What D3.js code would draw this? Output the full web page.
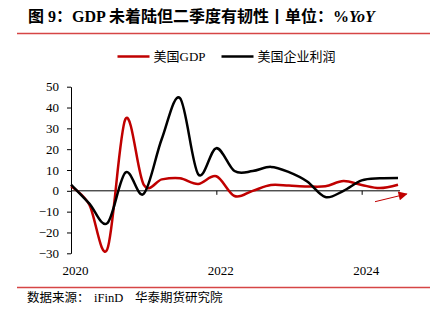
<!DOCTYPE html>
<html>
<head>
<meta charset="utf-8">
<script src="https://cdn.jsdelivr.net/npm/d3@7"></script>
<style>
  body { margin: 0; background: #fff; }
</style>
</head>
<body>
<div id="chart"></div>
<script>
// quarterly points, 2020Q1 .. 2024Q3
const quarters = ["2020Q1","2020Q2","2020Q3","2020Q4","2021Q1","2021Q2","2021Q3","2021Q4",
  "2022Q1","2022Q2","2022Q3","2022Q4","2023Q1","2023Q2","2023Q3","2023Q4",
  "2024Q1","2024Q2","2024Q3"];

// 美国GDP (annualised q/q, %)
const gdp = [2.2, -6.5, -28, 34.5, 3, 5.5, 6.0, 3.3, 7.0, -2.5, 0, 2.8, 2.5, 2.1, 2.2, 4.7, 2.8, 1.3, 2.9];

// 美国企业利润 (% YoY)
const profits = [3.0, -6, -15.5, 8.8, -1.5, 25, 44.5, 8, 20.5, 9.5, 9.5, 11.5, 9, 4.5, -3, 0, 5, 6.0, 6.2];

const yTicks = [-30, -20, -10, 0, 10, 20, 30, 40, 50];
const xTickIdx = [0, 8, 16];
const xTickLabels = ["2020", "2022", "2024"];

const series = [
  { name: "美国GDP", values: gdp, color: "#c00000" },
  { name: "美国企业利润", values: profits, color: "#000000" }
];

const width = 436, height = 321;
const serif = "'Liberation Serif', 'Noto Sans CJK SC', serif";

const svg = d3.select("#chart").append("svg")
  .attr("width", width)
  .attr("height", height)
  .attr("viewBox", [0, 0, width, height]);

// title
svg.append("text")
  .attr("x", 28).attr("y", 22)
  .attr("font-family", serif)
  .attr("font-weight", "bold")
  .attr("font-size", 16)
  .attr("fill", "#000")
  .call(t => t.append("tspan").text("图 9：GDP 未着陆但二季度有韧性丨单位：%"))
  .call(t => t.append("tspan").attr("font-style", "italic").text("YoY"));

// red rules above and below the chart
svg.append("g")
  .attr("stroke", "#d64545")
  .attr("stroke-width", 1.5)
  .selectAll("line")
  .data([33.5, 287.5])
  .join("line")
  .attr("x1", 17).attr("x2", 430)
  .attr("y1", d => d).attr("y2", d => d);

// scales
const x = d3.scaleLinear().domain([0, quarters.length - 1]).range([71, 398]);
const y = d3.scaleLinear().domain([-30, 50]).range([253.3, 86.7]);

// y axis
svg.append("g")
  .attr("transform", `translate(${x(0)},0)`)
  .call(d3.axisLeft(y).tickValues(yTicks).tickSize(4).tickSizeOuter(0).tickPadding(8))
  .call(g => g.selectAll("text")
    .attr("font-family", serif).attr("font-size", 13).attr("fill", "#000"))
  .call(g => g.selectAll("line, path").attr("stroke", "#000"));

// x axis on the zero line, labels pushed to the bottom
svg.append("g")
  .attr("transform", `translate(0,${y(0)})`)
  .call(d3.axisBottom(x).tickValues(xTickIdx).tickSize(4).tickSizeOuter(0)
    .tickFormat((d, i) => xTickLabels[i]))
  .call(g => g.select(".domain").attr("d", `M${x(0)},0H400`))
  .call(g => g.selectAll("text")
    .attr("font-family", serif).attr("font-size", 13).attr("fill", "#000")
    .attr("y", 270 - y(0)).attr("dy", "0.35em").attr("dx", 4))
  .call(g => g.selectAll("line, path").attr("stroke", "#000"));

// lines
const line = d3.line()
  .x((d, i) => x(i))
  .y(d => y(d))
  .curve(d3.curveCardinal.tension(0));

svg.append("g")
  .attr("fill", "none")
  .attr("stroke-width", 2.5)
  .attr("stroke-linejoin", "round")
  .selectAll("path")
  .data(series)
  .join("path")
  .attr("stroke", d => d.color)
  .attr("d", d => line(d.values));

// red arrow at the end
svg.append("defs").append("marker")
  .attr("id", "arrow")
  .attr("viewBox", "0 0 10 10")
  .attr("refX", 9).attr("refY", 5)
  .attr("markerWidth", 10).attr("markerHeight", 9)
  .attr("markerUnits", "userSpaceOnUse")
  .attr("orient", "auto")
  .append("path")
  .attr("d", "M0,0L10,5L0,10Z")
  .attr("fill", "#c00000");

svg.append("line")
  .attr("x1", 375).attr("y1", 201.7)
  .attr("x2", 406.7).attr("y2", 194)
  .attr("stroke", "#c00000")
  .attr("stroke-width", 1)
  .attr("marker-end", "url(#arrow)");

// legend
const legend = svg.append("g")
  .selectAll("g")
  .data(series)
  .join("g")
  .attr("transform", (d, i) => `translate(${[117.5, 221.5][i]},56.5)`);

legend.append("line")
  .attr("x1", 0).attr("x2", 32)
  .attr("stroke", d => d.color)
  .attr("stroke-width", 2.5);

legend.append("text")
  .attr("x", 36)
  .attr("dy", "0.35em")
  .attr("font-family", serif)
  .attr("font-size", 13)
  .attr("fill", "#000")
  .text(d => d.name);

// source
const source = svg.append("text")
  .attr("y", 302)
  .attr("font-family", serif)
  .attr("font-size", 12.5)
  .attr("fill", "#000");
source.append("tspan").attr("x", 27).text("数据来源：");
source.append("tspan").attr("x", 94).text("iFinD");
source.append("tspan").attr("x", 135).text("华泰期货研究院");
</script>
</body>
</html>
